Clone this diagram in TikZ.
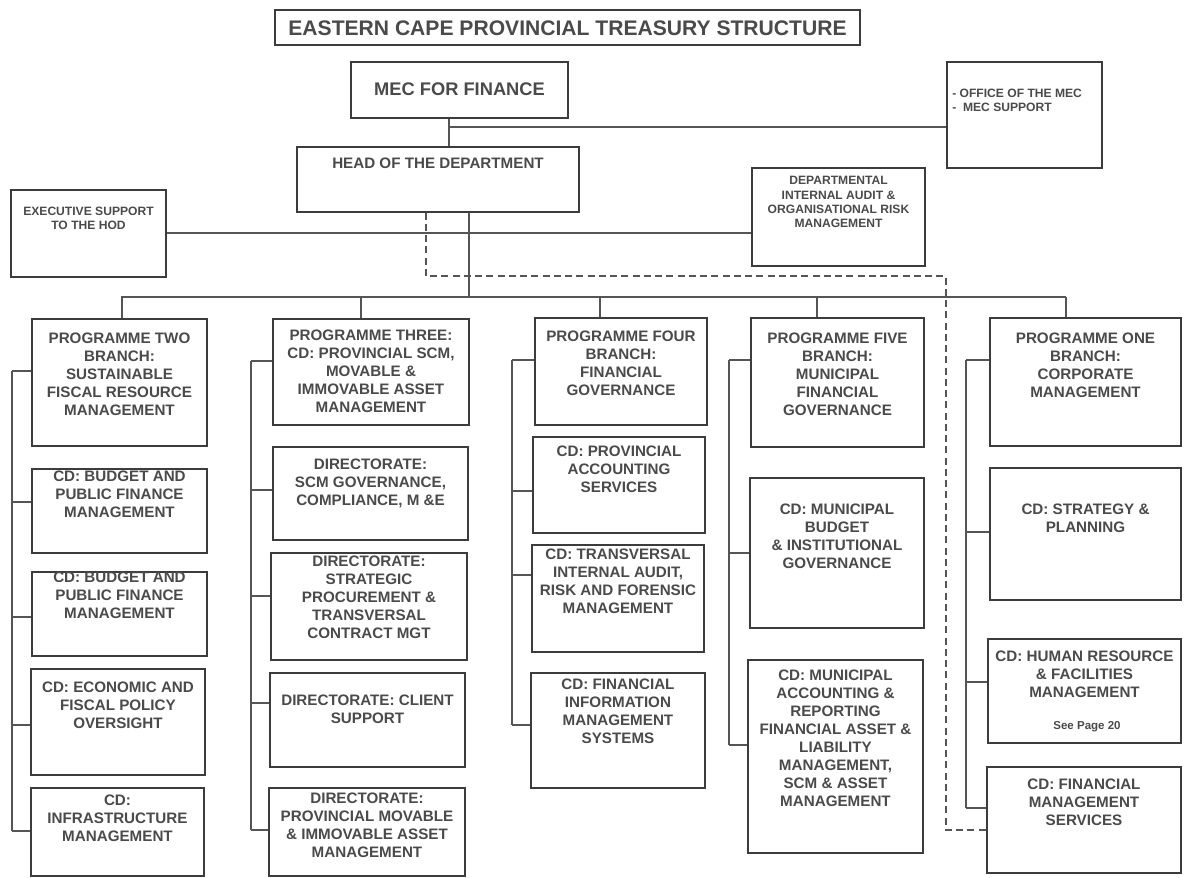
\documentclass[tikz,border=0pt]{standalone}
\usepackage{fontspec}
\setmainfont{Liberation Sans}
\usetikzlibrary{fit}
\definecolor{boxline}{HTML}{3C3C3C}
\definecolor{textgrey}{HTML}{4A4A4A}
\definecolor{linkgrey}{HTML}{555555}

\tikzset{
  orgbox/.style={draw=boxline, line width=0.9pt, inner sep=0pt},
  orgtext/.style={text=textgrey, inner sep=0pt, align=center,
                  font=\bfseries\fontsize{10.8}{12.8}\selectfont},
  smalltext/.style={orgtext, font=\bfseries\fontsize{8.6}{10.1}\selectfont},
  midtext/.style={orgtext, font=\bfseries\fontsize{13}{15}\selectfont},
  titletext/.style={orgtext, font=\bfseries\fontsize{15}{17}\selectfont},
  notetext/.style={orgtext, font=\bfseries\fontsize{8.2}{9}\selectfont},
  conn/.style={draw=linkgrey, line width=0.8pt},
  dashconn/.style={conn, dash pattern=on 5pt off 3pt}
}

% box from (x1,y1) to (x2,y2), text centred at height ty
\newcommand{\orgunit}[8][orgtext]{%
  \node[orgbox, fit={(#3,#4) (#5,#6)}] (#2) {};
  \node[#1] (#2-t) at ({(#3+#5)/2},#7) {#8};
}

\begin{document}
\begin{tikzpicture}[x=0.025cm, y=-0.025cm]
\useasboundingbox (0,0) rectangle (1184,877);

\orgunit[titletext]{title}{275}{10}{860}{45}{28}{EASTERN CAPE PROVINCIAL TREASURY STRUCTURE}
\orgunit[midtext]{mec}{351}{62}{568}{118}{89}{MEC FOR FINANCE}
\node[orgbox, fit={(947,62) (1102,168)}] (office) {};
\node[smalltext, align=left, anchor=west] (office-t) at (952,100) {- OFFICE OF THE MEC\\-\ \ MEC SUPPORT};
\orgunit{hod}{297}{147}{579}{212}{163}{HEAD OF THE DEPARTMENT}
\orgunit[smalltext]{exec}{11}{190}{166}{277}{218}{EXECUTIVE SUPPORT\\TO THE HOD}
\orgunit[smalltext]{dia}{752}{168}{925}{266}{202}{DEPARTMENTAL\\INTERNAL AUDIT \&\\ORGANISATIONAL RISK\\MANAGEMENT}

% programme two
\orgunit{p2}{32}{319}{207}{446}{374}{PROGRAMME TWO\\BRANCH:\\SUSTAINABLE\\FISCAL RESOURCE\\MANAGEMENT}
\orgunit{cbp1}{32}{469}{207}{553}{494}{CD: BUDGET AND\\PUBLIC FINANCE\\MANAGEMENT}
\orgunit{cbp2}{32}{572}{207}{656}{595}{CD: BUDGET AND\\PUBLIC FINANCE\\MANAGEMENT}
\orgunit{econ}{31}{669}{205}{775}{705}{CD: ECONOMIC AND\\FISCAL POLICY\\OVERSIGHT}
\orgunit{infra}{31}{788}{204}{876}{818}{CD:\\INFRASTRUCTURE\\MANAGEMENT}

% programme three
\orgunit{p3}{273}{319}{469}{425}{371}{PROGRAMME THREE:\\CD: PROVINCIAL SCM,\\MOVABLE \&\\IMMOVABLE ASSET\\MANAGEMENT}
\orgunit{dscm}{273}{447}{468}{540}{483}{DIRECTORATE:\\SCM GOVERNANCE,\\COMPLIANCE, M \&E}
\orgunit{dsp}{271}{553}{467}{660}{597}{DIRECTORATE:\\STRATEGIC\\PROCUREMENT \&\\TRANSVERSAL\\CONTRACT MGT}
\orgunit{dcs}{270}{673}{465}{767}{709}{DIRECTORATE: CLIENT\\SUPPORT}
\orgunit{dpm}{269}{788}{465}{876}{825}{DIRECTORATE:\\PROVINCIAL MOVABLE\\\& IMMOVABLE ASSET\\MANAGEMENT}

% programme four
\orgunit{p4}{535}{318}{707}{425}{363}{PROGRAMME FOUR\\BRANCH:\\FINANCIAL\\GOVERNANCE}
\orgunit{cpa}{533}{437}{705}{533}{469}{CD: PROVINCIAL\\ACCOUNTING\\SERVICES}
\orgunit{ctr}{532}{545}{704}{652}{581}{CD: TRANSVERSAL\\INTERNAL AUDIT,\\RISK AND FORENSIC\\MANAGEMENT}
\orgunit{cfi}{531}{673}{705}{788}{711}{CD: FINANCIAL\\INFORMATION\\MANAGEMENT\\SYSTEMS}

% programme five
\orgunit{p5}{751}{318}{924}{447}{374}{PROGRAMME FIVE\\BRANCH:\\MUNICIPAL\\FINANCIAL\\GOVERNANCE}
\orgunit{cmb}{750}{478}{924}{628}{536}{CD: MUNICIPAL\\BUDGET\\\& INSTITUTIONAL\\GOVERNANCE}
\orgunit{cma}{748}{660}{923}{853}{738}{CD: MUNICIPAL\\ACCOUNTING \&\\REPORTING\\FINANCIAL ASSET \&\\LIABILITY\\MANAGEMENT,\\SCM \& ASSET\\MANAGEMENT}

% programme one
\orgunit{p1}{990}{318}{1181}{446}{365}{PROGRAMME ONE\\BRANCH:\\CORPORATE\\MANAGEMENT}
\orgunit{csp}{990}{468}{1181}{600}{518}{CD: STRATEGY \&\\PLANNING}
\orgunit{chr}{988}{639}{1181}{743}{674}{CD: HUMAN RESOURCE\\\& FACILITIES\\MANAGEMENT}
\node[notetext] (chr-n) at (1087,727) {See Page 20};
\orgunit{cfm}{987}{767}{1181}{873}{802}{CD: FINANCIAL\\MANAGEMENT\\SERVICES}

% top links
\draw[conn] (mec.south -| 449,0) -- (hod.north -| 449,0);
\draw[conn] (449,127) -- (office.west |- 0,127);
\draw[conn] (exec.east |- 0,233) -- (dia.west |- 0,233);
\draw[conn] (hod.south -| 469,0) -- (469,297);
\draw[dashconn] (hod.south -| 426,0) |- (946,276) |- (cfm.west |- 0,830);

% bus and drops
\draw[conn] (121,297) -- (1066,297);
\foreach \n/\x in {p2/122, p3/361, p4/600, p5/817, p1/1066}{
  \draw[conn] (\x,297) -- (\n.north -| \x,0);
}

% spines
\foreach \sx/\st/\sb in {12/371/831, 251/361/830, 512/360/725, 729/360/745, 966/360/808}{
  \draw[conn] (\sx,\st) -- (\sx,\sb);
}
\foreach \n/\sx/\y in {p2/12/371, cbp1/12/502, cbp2/12/617, econ/12/725, infra/12/831,
  p3/251/361, dscm/251/490, dsp/251/596, dcs/251/703, dpm/251/830,
  p4/512/360, cpa/512/491, ctr/512/575, cfi/512/725,
  p5/729/360, cmb/729/553, cma/729/745,
  p1/966/360, csp/966/532, chr/966/682, cfm/966/808}{
  \draw[conn] (\sx,\y) -- (\n.west |- 0,\y);
}
\end{tikzpicture}
\end{document}
